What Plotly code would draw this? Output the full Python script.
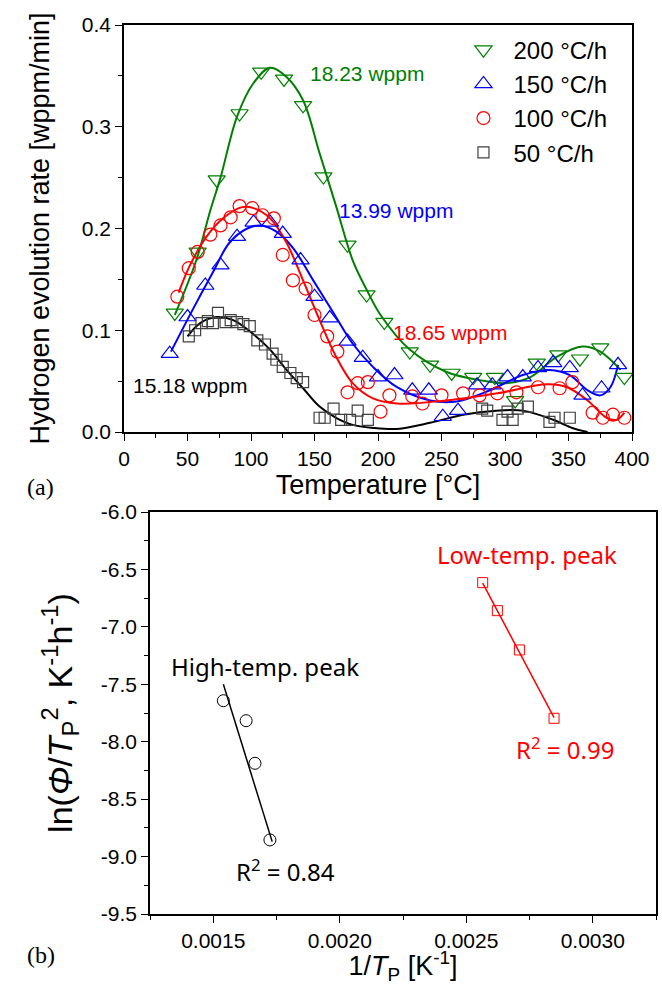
import plotly.graph_objects as go

# ---- (a) TDS spectra: measured points ----
t200 = [40, 58, 73, 91, 108, 126, 141, 157, 176, 191, 205, 225, 241, 258, 275, 292, 308, 325, 342, 359, 375, 394]
r200 = [0.117, 0.177, 0.248, 0.313, 0.354, 0.347, 0.321, 0.251, 0.184, 0.135, 0.108, 0.079, 0.066, 0.058, 0.054,
        0.054, 0.031, 0.068, 0.076, 0.072, 0.083, 0.054]

t150 = [36, 50, 64, 76, 89, 102, 115, 125, 139, 150, 162, 176, 188, 200, 213, 227, 240, 251, 263, 278, 290, 302,
        314, 326, 338, 351, 361, 376, 389]
r150 = [0.077, 0.113, 0.144, 0.164, 0.192, 0.206, 0.206, 0.195, 0.169, 0.133, 0.112, 0.089, 0.073, 0.054, 0.056,
        0.041, 0.041, 0.015, 0.021, 0.046, 0.046, 0.054, 0.054, 0.063, 0.068, 0.063, 0.036, 0.043, 0.066]

t100 = [42, 51, 58, 68, 76, 84, 91, 101, 109, 118, 125, 133, 143, 150, 160, 168, 176, 184, 192, 202, 209, 227,
        235, 250, 267, 280, 294, 309, 326, 343, 353, 369, 377, 385, 394]
r100 = [0.133, 0.161, 0.177, 0.194, 0.203, 0.211, 0.222, 0.220, 0.213, 0.210, 0.174, 0.149, 0.141, 0.115, 0.094,
        0.079, 0.039, 0.048, 0.049, 0.020, 0.036, 0.035, 0.028, 0.036, 0.038, 0.036, 0.038, 0.039, 0.044, 0.043,
        0.049, 0.019, 0.014, 0.017, 0.014]

t50 = [51, 56, 61, 66, 70, 74, 80, 84, 89, 94, 99, 105, 111, 117, 120, 125, 131, 136, 141, 154, 158, 165, 171,
       178, 184, 192, 282, 286, 298, 302, 306, 310, 318, 335, 339, 351]
r50 = [0.094, 0.100, 0.107, 0.109, 0.107, 0.117, 0.108, 0.110, 0.108, 0.106, 0.104, 0.090, 0.086, 0.077, 0.071,
       0.064, 0.058, 0.053, 0.049, 0.014, 0.014, 0.023, 0.012, 0.012, 0.021, 0.012, 0.023, 0.021, 0.012, 0.020,
       0.012, 0.023, 0.025, 0.010, 0.014, 0.014]

# ---- (a) fitted curves ----
ft200 = [40, 57, 68, 76, 89, 102, 115, 128, 141, 154, 167, 180, 191, 202, 225, 254, 280, 301, 320, 341, 361, 375, 391]
fr200 = [0.115, 0.169, 0.218, 0.25, 0.31, 0.343, 0.358, 0.349, 0.326, 0.274, 0.222, 0.169, 0.14, 0.115, 0.081,
         0.059, 0.051, 0.048, 0.054, 0.074, 0.084, 0.079, 0.061]

ft150 = [37, 54, 70, 83, 97, 107, 120, 133, 149, 165, 180, 196, 215, 241, 262, 288, 314, 335, 351, 365, 375, 383, 389]
fr150 = [0.079, 0.12, 0.157, 0.186, 0.200, 0.203, 0.197, 0.181, 0.149, 0.117, 0.087, 0.064, 0.044, 0.031, 0.030,
         0.041, 0.056, 0.061, 0.056, 0.041, 0.036, 0.044, 0.066]

ft100 = [43, 52, 65, 78, 93, 102, 115, 128, 141, 154, 167, 180, 196, 215, 254, 294, 333, 349, 365, 380, 388, 394]
fr100 = [0.137, 0.164, 0.192, 0.21, 0.221, 0.22, 0.21, 0.186, 0.149, 0.110, 0.074, 0.048, 0.033, 0.028, 0.031,
         0.038, 0.047, 0.044, 0.031, 0.014, 0.012, 0.019]

ft50 = [50, 60, 73, 86, 101, 115, 128, 141, 154, 167, 180, 196, 215, 241, 267, 293, 314, 338, 353, 365]
fr50 = [0.094, 0.107, 0.113, 0.110, 0.097, 0.081, 0.061, 0.043, 0.025, 0.014, 0.007, 0.004, 0.003, 0.009, 0.017,
        0.021, 0.021, 0.012, 0.004, 0.0]

# ---- (b) Kissinger plot ----
inv_t_high = [0.00154, 0.00163, 0.001665, 0.001724]
ln_high = [-7.643, -7.817, -8.188, -8.855]
fit_high_x = [0.00154, 0.001733]
fit_high_y = [-7.50, -8.87]

inv_t_low = [0.002565, 0.002623, 0.00271, 0.002847]
ln_low = [-6.615, -6.859, -7.201, -7.796]
fit_low_x = [0.002565, 0.002847]
fit_low_y = [-6.62, -7.79]

y2_ticks = [-6.0, -6.5, -7.0, -7.5, -8.0, -8.5, -9.0, -9.5]
x2_ticks = [0.0015, 0.0020, 0.0025, 0.0030]

GREEN = '#008000'
BLUE = '#0000ff'
RED = '#ff0000'
GREY = '#404040'

fig = go.Figure()

series = [
    ('200 °C/h', t200, r200, ft200, fr200, GREEN, GREEN, 'triangle-down-open', 15),
    ('150 °C/h', t150, r150, ft150, fr150, BLUE, BLUE, 'triangle-up-open', 15),
    ('100 °C/h', t100, r100, ft100, fr100, RED, RED, 'circle-open', 13),
    ('50 °C/h', t50, r50, ft50, fr50, GREY, '#000000', 'square-open', 11),
]
for name, tx, ry, fx, fy, mcol, lcol, sym, size in series:
    fig.add_trace(go.Scatter(x=fx, y=fy, mode='lines', line=dict(color=lcol, width=2, shape='spline'),
                             showlegend=False, hoverinfo='skip', xaxis='x', yaxis='y'))
for name, tx, ry, fx, fy, mcol, lcol, sym, size in series:
    fig.add_trace(go.Scatter(x=tx, y=ry, mode='markers', name=name,
                             marker=dict(symbol=sym, size=size, color=mcol, line=dict(width=1.2)),
                             xaxis='x', yaxis='y'))

fig.add_trace(go.Scatter(x=fit_high_x, y=fit_high_y, mode='lines', line=dict(color='black', width=1.5),
                         showlegend=False, xaxis='x2', yaxis='y2'))
fig.add_trace(go.Scatter(x=inv_t_high, y=ln_high, mode='markers', showlegend=False,
                         marker=dict(symbol='circle-open', size=12, color='black', line=dict(width=1)),
                         xaxis='x2', yaxis='y2'))
fig.add_trace(go.Scatter(x=fit_low_x, y=fit_low_y, mode='lines', line=dict(color=RED, width=1.5),
                         showlegend=False, xaxis='x2', yaxis='y2'))
fig.add_trace(go.Scatter(x=inv_t_low, y=ln_low, mode='markers', showlegend=False,
                         marker=dict(symbol='square-open', size=10, color=RED, line=dict(width=1)),
                         xaxis='x2', yaxis='y2'))

axis_common = dict(showline=True, linecolor='black', linewidth=1.5, mirror=True, showgrid=False,
                   zeroline=False, ticks='outside', ticklen=7, tickwidth=1.2, tickcolor='black',
                   automargin=False, tickfont=dict(family='Arial', size=21, color='black'))

fig.update_layout(
    width=662, height=985,
    margin=dict(l=0, r=0, t=0, b=0),
    paper_bgcolor='white', plot_bgcolor='white',
    font=dict(family='Arial', color='black'),
    xaxis=dict(axis_common, domain=[124 / 662, 632 / 662], range=[0, 400], dtick=50,
               minor=dict(dtick=25, ticks='outside', ticklen=4, tickcolor='black'),
               title=dict(text='Temperature [°C]', font=dict(size=27), standoff=3), anchor='y'),
    yaxis=dict(axis_common, domain=[1 - 432 / 985, 1 - 25 / 985], range=[0, 0.4], dtick=0.1, tickformat='.1f',
               minor=dict(dtick=0.05, ticks='outside', ticklen=4, tickcolor='black'),
               title=dict(text='Hydrogen evolution rate [wppm/min]', font=dict(size=27), standoff=24), anchor='x'),
    xaxis2=dict(axis_common, domain=[150 / 662, 656 / 662], range=[0.00125, 0.00325],
                tickvals=x2_ticks, ticktext=['%.4f' % v for v in x2_ticks],
                minor=dict(dtick=0.00025, tick0=0.00125, ticks='outside', ticklen=4, tickcolor='black'),
                title=dict(text='1/<i>T</i><sub>P</sub> [K<sup>-1</sup>]', font=dict(size=27), standoff=1),
                anchor='y2'),
    yaxis2=dict(axis_common, domain=[1 - 914 / 985, 1 - 512 / 985], range=[-9.5, -6.0],
                tickvals=y2_ticks, ticktext=['%.1f' % v for v in y2_ticks],
                minor=dict(dtick=0.25, ticks='outside', ticklen=4, tickcolor='black'),
                title=dict(text='ln(<i>Φ</i>/<i>T</i><sub>P</sub><sup>2</sup>, K<sup>-1</sup>h<sup>-1</sup>)',
                           font=dict(size=34), standoff=18), anchor='x2'),
    legend=dict(x=0.685, y=0.972, xanchor='left', yanchor='top', bgcolor='rgba(0,0,0,0)',
                font=dict(family='Arial', size=24, color='black'), tracegroupgap=0, itemwidth=50),
)

anns = [
    dict(x=191, y=0.352, text='18.23 wppm', color=GREEN, xref='x', yref='y', size=21, fam='Arial'),
    dict(x=214, y=0.218, text='13.99 wppm', color=BLUE, xref='x', yref='y', size=21, fam='Arial'),
    dict(x=257, y=0.098, text='18.65 wppm', color=RED, xref='x', yref='y', size=21, fam='Arial'),
    dict(x=52, y=0.046, text='15.18 wppm', color='black', xref='x', yref='y', size=21, fam='Arial'),
    dict(x=0.00274, y=-6.374, text='Low-temp. peak', color=RED, xref='x2', yref='y2', size=24, fam='Noto Sans'),
    dict(x=0.00289, y=-8.055, text='R<sup>2</sup> = 0.99', color=RED, xref='x2', yref='y2', size=24, fam='Noto Sans'),
    dict(x=0.001703, y=-7.341, text='High-temp. peak', color='black', xref='x2', yref='y2', size=24, fam='Noto Sans'),
    dict(x=0.001784, y=-9.122, text='R<sup>2</sup> = 0.84', color='black', xref='x2', yref='y2', size=24, fam='Noto Sans'),
]
for a in anns:
    fig.add_annotation(x=a['x'], y=a['y'], xref=a['xref'], yref=a['yref'], text=a['text'], showarrow=False,
                       font=dict(family=a['fam'], size=a['size'], color=a['color']))

fig.add_annotation(x=25 / 662, y=1 - 487 / 985, xref='paper', yref='paper', text='(a)', showarrow=False,
                   font=dict(family='Liberation Serif', size=24, color='black'))
fig.add_annotation(x=25 / 662, y=1 - 970 / 985, xref='paper', yref='paper', text='(b)', showarrow=False,
                   font=dict(family='Liberation Serif', size=24, color='black'))

# page body has an 8px default margin; drop it so the figure sits at the window origin
fig.write_html("out.html", config={'displayModeBar': False},
               post_script="document.body.style.margin='0';")
